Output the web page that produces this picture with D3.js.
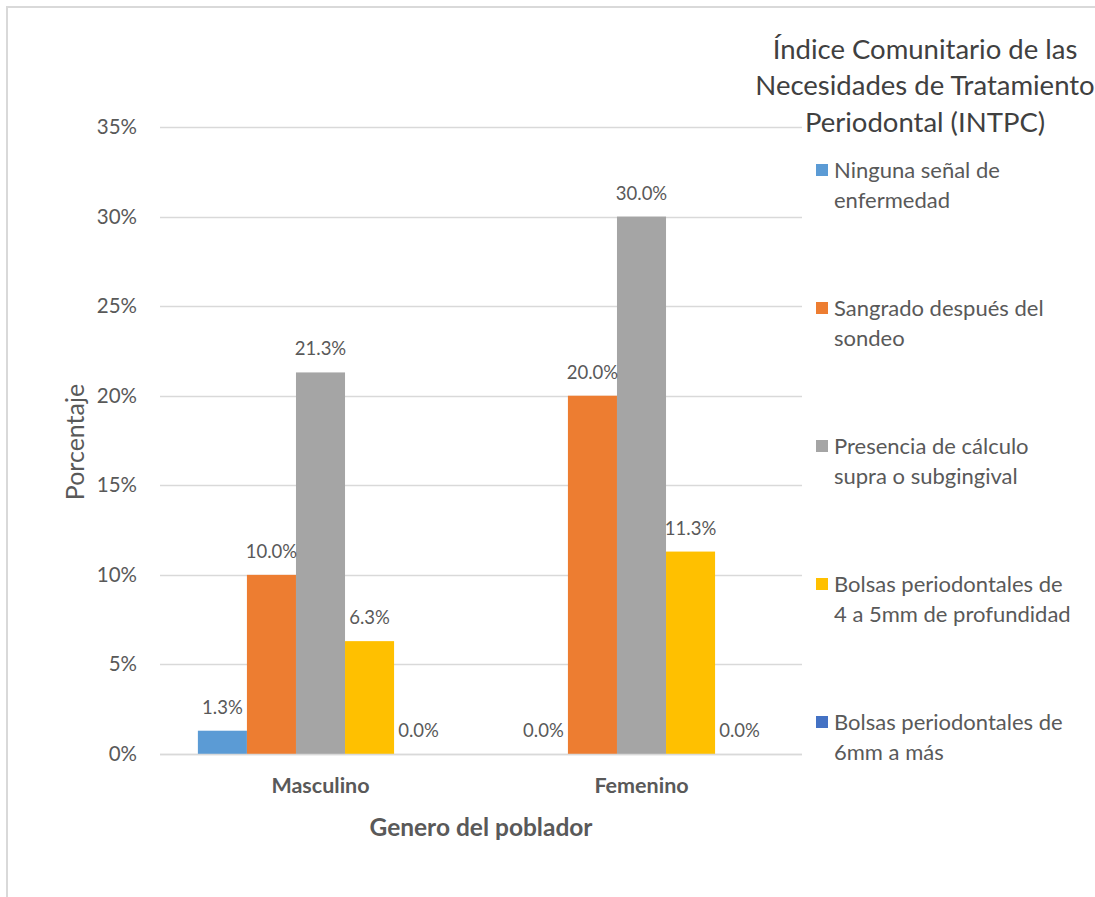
<!DOCTYPE html>
<html><head><meta charset="utf-8">
<script src="https://cdn.jsdelivr.net/npm/d3@7"></script>
<style>body{margin:0;background:#fff;font-family:Carlito,Lato,"Open Sans",sans-serif}</style>
</head><body>
<svg id="c" width="1095" height="897"></svg>
<script>
const categories = ["Masculino", "Femenino"];
const seriesNames = [
  ["Ninguna señal de", "enfermedad"],
  ["Sangrado después del", "sondeo"],
  ["Presencia de cálculo", "supra o subgingival"],
  ["Bolsas periodontales de", "4 a 5mm de profundidad"],
  ["Bolsas periodontales de", "6mm a más"]
];
const seriesColors = ["#5b9bd5", "#ed7d31", "#a5a5a5", "#ffc000", "#4472c4"];
const masculino = [0.013, 0.100, 0.213, 0.063, 0.000];
const femenino = [0.000, 0.200, 0.300, 0.113, 0.000];
const yTicks = [0, 0.05, 0.10, 0.15, 0.20, 0.25, 0.30, 0.35];
const legendTitle = ["Índice Comunitario de las", "Necesidades de Tratamiento", "Periodontal (INTPC)"];

const values = [masculino, femenino];
const svg = d3.select("#c");
const FF = "Lato, sans-serif";

// chart border
svg.append("rect").attr("x", 7).attr("y", 7).attr("width", 1100).attr("height", 1000)
  .attr("fill", "none").attr("stroke", "#d9d9d9").attr("stroke-width", 2);

const pL = 160, pR = 802, pT = 127, pB = 754;
const y = d3.scaleLinear().domain([0, 0.35]).range([pB, pT]);
const x0 = d3.scaleBand().domain(categories).range([pL, pR]).paddingInner(0.236).paddingOuter(0.118);
const x1 = d3.scaleBand().domain(d3.range(5)).range([0, x0.bandwidth()]);

// gridlines
svg.append("g").selectAll("line").data(yTicks).join("line")
  .attr("x1", pL).attr("x2", pR)
  .attr("y1", d => Math.round(y(d)) + 0.5).attr("y2", d => Math.round(y(d)) + 0.5)
  .attr("stroke", "#d9d9d9").attr("stroke-width", 1.3);

// y axis labels
const yAxis = d3.axisLeft(y).tickValues(yTicks).tickFormat(d3.format(".0%")).tickSize(0).tickPadding(23);
const ya = svg.append("g").attr("transform", `translate(${pL},0)`).call(yAxis);
ya.select(".domain").remove();
ya.selectAll("text").attr("font-size", 20.5).attr("fill", "#595959").attr("font-family", FF);

// bars
const groups = svg.append("g").selectAll("g").data(categories).join("g")
  .attr("transform", d => `translate(${x0(d)},0)`);
groups.selectAll("rect").data((d, i) => values[i].map((v, j) => ({v, j}))).join("rect")
  .attr("x", d => x1(d.j)).attr("width", x1.bandwidth())
  .attr("y", d => y(d.v)).attr("height", d => pB - y(d.v))
  .attr("fill", d => seriesColors[d.j]);
groups.selectAll("text").data((d, i) => values[i].map((v, j) => ({v, j}))).join("text")
  .attr("x", d => x1(d.j) + x1.bandwidth() / 2).attr("y", d => y(d.v) - 17)
  .attr("text-anchor", "middle").attr("font-size", 18.5).attr("fill", "#595959").attr("font-family", FF)
  .text(d => d3.format(".1%")(d.v));

// x axis
svg.append("line").attr("x1", pL).attr("x2", pR).attr("y1", pB + 0.5).attr("y2", pB + 0.5)
  .attr("stroke", "#d9d9d9").attr("stroke-width", 1.3);
const xAxis = d3.axisBottom(x0).tickSize(0).tickPadding(24);
const xa = svg.append("g").attr("transform", `translate(0,${pB})`).call(xAxis);
xa.select(".domain").remove();
xa.selectAll("text").attr("font-size", 21.5).attr("font-weight", "bold").attr("fill", "#595959").attr("font-family", FF);

// axis titles
svg.append("text").attr("x", (pL + pR) / 2).attr("y", 836).attr("text-anchor", "middle")
  .attr("font-size", 24.5).attr("font-weight", "bold").attr("fill", "#595959").attr("font-family", FF).text("Genero del poblador");
svg.append("text").attr("transform", "translate(84,442) rotate(-90)").attr("text-anchor", "middle")
  .attr("font-size", 25).attr("fill", "#595959").attr("font-family", FF).text("Porcentaje");

// legend title
svg.append("g").selectAll("text").data(legendTitle).join("text")
  .attr("x", 925).attr("y", (d, i) => 58.5 + i * 36.5).attr("text-anchor", "middle")
  .attr("font-size", 27.5).attr("fill", "#404040").attr("font-family", FF).text(d => d);

// legend items
const lg = svg.append("g").selectAll("g").data(seriesNames).join("g")
  .attr("transform", (d, i) => `translate(816,${178 + i * 138})`);
lg.append("rect").attr("x", 0).attr("y", -14).attr("width", 12).attr("height", 12)
  .attr("fill", (d, i) => seriesColors[i]);
lg.selectAll("text").data(d => d).join("text")
  .attr("x", 18).attr("y", (d, i) => i * 30).attr("font-size", 22).attr("fill", "#595959").attr("font-family", FF).text(d => d);
</script>
</body></html>
